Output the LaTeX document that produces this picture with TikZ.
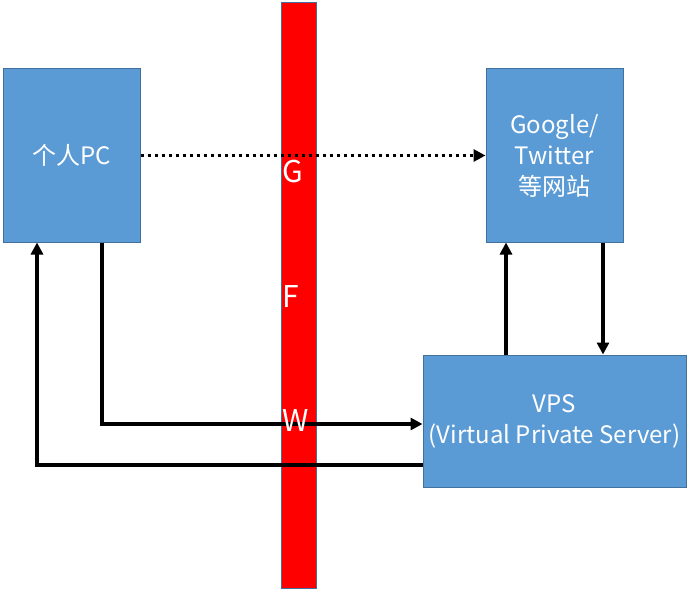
\documentclass[tikz,border=0pt]{standalone}
\usepackage{fontspec}
\setmainfont{Noto Sans CJK SC}
\usepackage{tikz}
\usetikzlibrary{positioning,arrows.meta}
\definecolor{boxblue}{HTML}{5B9BD5}
\definecolor{boxline}{HTML}{41719C}
\tikzset{main node/.style={rectangle,fill=boxblue,draw=boxline,line width=1pt,text=white,align=center,font=\fontsize{24}{31}\selectfont,inner sep=0pt},
         wall/.style={rectangle,fill=red,draw=boxline,line width=1pt,minimum width=35pt,minimum height=585pt,inner sep=0pt},
         wall text/.style={text=white,font=\fontsize{30}{30}\selectfont},
         link/.style={line width=3.5pt,-{Triangle[length=12pt,width=12pt]}},
            }

\begin{document}
\begin{tikzpicture}[x=1pt,y=-1pt]
    \useasboundingbox (0,0) rectangle (692,591);
    \node[wall] (gfw) at (298.5,295.5) {};
    \node[main node,minimum width=137pt,minimum height=173pt] (pc) at (71.5,155.5) {个人PC};
    \node[main node,minimum width=137pt,minimum height=173pt] (google) at (554.5,155.5) {Google/\\Twitter\\等网站};
    \node[main node,minimum width=263pt,minimum height=132pt] (vps) at (554.5,421) {VPS\\(Virtual Private Server)};

    \path
    (pc.east) edge[link,dash pattern=on 3.5pt off 3.5pt] node {} (google.west)
    ([xshift=-48.5pt]vps.north) edge[link] node {} ([xshift=-48.5pt]google.south)
    ([xshift=48.5pt]google.south) edge[link] node {} ([xshift=48.5pt]vps.north)
    ;
    \draw[link] ([xshift=30.5pt]pc.south) |- ([yshift=-3pt]vps.west);
    \draw[link] ([yshift=-44pt]vps.west) -| ([xshift=-34.5pt]pc.south);
    %%
    \node[wall text] (g) at (293,172) {G};
    \node[wall text] (f) at (291,297) {F};
    \node[wall text] (w) at (296,420) {W};
\end{tikzpicture}
\end{document}
